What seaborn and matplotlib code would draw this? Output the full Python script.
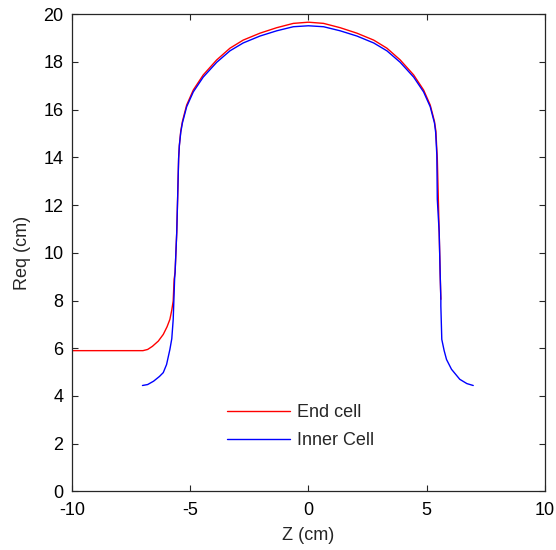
import pandas as pd
import seaborn as sns
from matplotlib import pyplot as plt

# cavity profiles (Z, Req in cm)
end_z = [-10.0, -7.0, -6.8, -6.6, -6.35, -6.14, -5.98, -5.86, -5.78, -5.72,
         -5.68, -5.64, -5.57, -5.53, -5.49, -5.46, -5.40, -5.33, -5.24, -5.15,
         -4.87, -4.45, -3.88, -3.32, -2.76, -2.05, -1.34, -0.64, 0.0, 0.64,
         1.34, 2.05, 2.76, 3.32, 3.88, 4.45, 4.87, 5.15, 5.24, 5.33, 5.39,
         5.42, 5.45, 5.53, 5.57, 5.60]
end_r = [5.90, 5.90, 5.95, 6.08, 6.30, 6.58, 6.90, 7.21, 7.60, 7.98,
         8.90, 9.18, 10.86, 12.38, 13.96, 14.50, 15.10, 15.50, 15.85, 16.19,
         16.82, 17.45, 18.08, 18.57, 18.91, 19.20, 19.43, 19.61, 19.66, 19.61,
         19.43, 19.20, 18.91, 18.57, 18.08, 17.45, 16.82, 16.19, 15.85, 15.50,
         15.10, 14.50, 13.96, 10.85, 9.17, 8.05]

inner_z = [-7.02, -6.80, -6.55, -6.30, -6.14, -6.00, -5.86, -5.78, -5.72, -5.70,
           -5.66, -5.64, -5.57, -5.53, -5.49, -5.46, -5.40, -5.33, -5.24, -5.15,
           -4.87, -4.45, -3.88, -3.32, -2.76, -2.05, -1.34, -0.64, 0.0, 0.64,
           1.34, 2.05, 2.76, 3.32, 3.88, 4.45, 4.87, 5.15, 5.24, 5.33, 5.38,
           5.41, 5.43, 5.45, 5.53, 5.57, 5.60, 5.60, 5.64, 5.74, 5.84, 6.05,
           6.40, 6.70, 6.97]
inner_r = [4.44, 4.48, 4.62, 4.82, 4.98, 5.32, 5.95, 6.40, 7.20, 7.77,
           8.90, 9.18, 10.86, 12.38, 13.96, 14.48, 15.05, 15.44, 15.78, 16.12,
           16.74, 17.36, 17.98, 18.46, 18.79, 19.08, 19.30, 19.47, 19.51, 19.47,
           19.30, 19.08, 18.79, 18.46, 17.98, 17.36, 16.74, 16.12, 15.78, 15.44,
           15.05, 14.48, 14.10, 12.24, 10.85, 9.17, 8.05, 7.77, 6.37, 5.90,
           5.53, 5.12, 4.70, 4.52, 4.44]

df = pd.concat([
    pd.DataFrame({'Z': end_z, 'Req': end_r, 'cell': 'End cell'}),
    pd.DataFrame({'Z': inner_z, 'Req': inner_r, 'cell': 'Inner Cell'}),
], ignore_index=True)

sns.set_style('ticks')
plt.rcParams['font.family'] = ['Liberation Sans', 'DejaVu Sans']
plt.rcParams['axes.unicode_minus'] = False

fig = plt.figure(figsize=(5.56, 5.50), dpi=100)
ax = fig.add_axes([0.1295, 0.1064, 0.8505, 0.868])

sns.lineplot(data=df, x='Z', y='Req', hue='cell', sort=False, estimator=None,
             palette={'End cell': '#ff0000', 'Inner Cell': '#0000ff'},
             linewidth=1.0, ax=ax)

ax.set_xlim(-10, 10)
ax.set_ylim(0, 20)
ax.set_xticks([-10, -5, 0, 5, 10])
ax.set_yticks(range(0, 21, 2))
ax.tick_params(direction='in', length=4, width=0.8, top=True, right=True,
               labelsize=13, colors='#262626', labelcolor='black')
ax.tick_params(axis='x', pad=7.5)
ax.tick_params(axis='y', pad=6.3)
for s in ax.spines.values():
    s.set_visible(True)
    s.set_color('#262626')
    s.set_linewidth(0.9)

ax.set_xlabel('Z (cm)', fontsize=13, labelpad=6)
ax.set_ylabel('Req (cm)', fontsize=13, labelpad=9)

ax.legend(loc='upper left', bbox_to_anchor=(0.3277, 0.183), frameon=False,
          fontsize=13, handlelength=3.5, handletextpad=0.4,
          labelspacing=0.6, borderpad=0, borderaxespad=0)

plt.savefig('out.png', dpi=100)
